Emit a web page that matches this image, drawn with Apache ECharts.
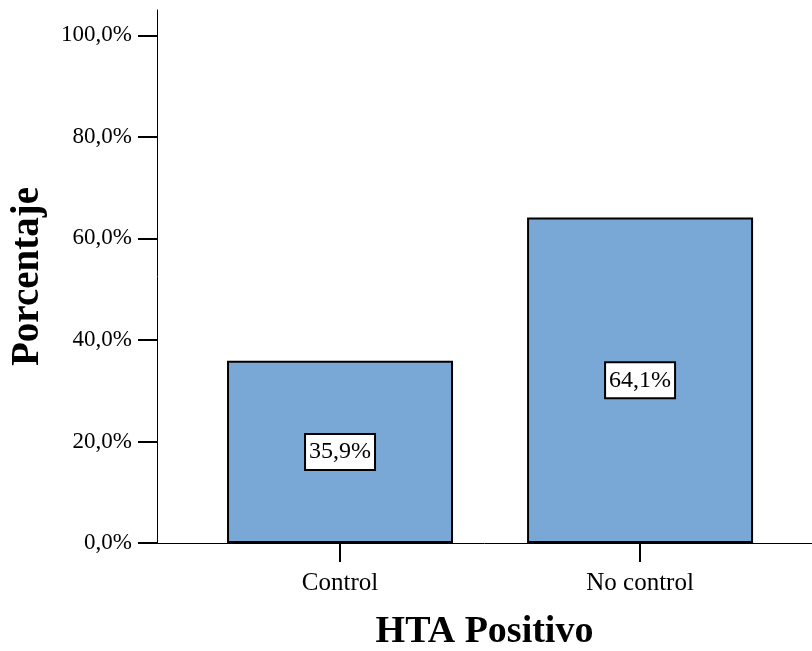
<!DOCTYPE html>
<html>
<head>
<meta charset="utf-8">
<script src="https://cdn.jsdelivr.net/npm/echarts@6/dist/echarts.min.js"></script>
<style>
html, body { margin: 0; padding: 0; background: #fff; }
#chart { width: 812px; height: 651px; }
</style>
</head>
<body>
<div id="chart"></div>
<script>
// datos del gráfico
var categorias = ['Control', 'No control'];
var porcentajes = [35.9, 64.1];
var ticksY = [0, 20, 40, 60, 80, 100];

var chart = echarts.init(document.getElementById('chart'));

function coma(v) {
    return v.toFixed(1).replace('.', ',') + '%';
}

var barras = [];
var posX = [];
for (var i = 0; i < categorias.length; i++) {
    barras.push([i + 1, porcentajes[i]]);
    posX.push(i + 1);
}

var fuente = 'Liberation Serif';

var option = {
    animation: false,
    grid: {
        left: 157,
        right: 0,
        top: 10,
        bottom: 108,
        outerBoundsMode: 'none',
        containLabel: false
    },
    xAxis: {
        type: 'value',
        min: 0.39,
        max: 2.573,
        name: 'HTA Positivo',
        nameLocation: 'middle',
        nameGap: 70,
        nameTextStyle: {
            fontFamily: fuente,
            fontWeight: 'bold',
            fontSize: 38,
            color: '#000'
        },
        splitLine: { show: false },
        axisLine: { show: true, lineStyle: { color: '#000', width: 1 } },
        axisTick: {
            show: true,
            length: 19,
            customValues: posX,
            lineStyle: { color: '#000', width: 2 }
        },
        axisLabel: {
            customValues: posX,
            margin: 28,
            fontFamily: fuente,
            fontSize: 25,
            color: '#000',
            formatter: function (v) {
                return categorias[Math.round(v) - 1] || '';
            }
        }
    },
    yAxis: {
        type: 'value',
        min: 0,
        max: 105,
        name: 'Porcentaje',
        nameLocation: 'middle',
        nameGap: 110,
        nameRotate: 90,
        nameTextStyle: {
            fontFamily: fuente,
            fontWeight: 'bold',
            fontSize: 39,
            color: '#000'
        },
        splitLine: { show: false },
        axisLine: { show: true, lineStyle: { color: '#000', width: 1 } },
        axisTick: {
            show: true,
            length: 19,
            customValues: ticksY,
            lineStyle: { color: '#000', width: 2 }
        },
        axisLabel: {
            customValues: ticksY,
            margin: 25,
            fontFamily: fuente,
            fontSize: 23,
            color: '#000',
            formatter: function (v) { return coma(v); }
        }
    },
    series: [{
        type: 'bar',
        data: barras,
        barWidth: 226,
        itemStyle: {
            color: '#79a8d6',
            borderColor: '#000',
            borderWidth: 2
        },
        label: {
            show: true,
            position: 'inside',
            formatter: function (p) { return coma(p.value[1]); },
            fontFamily: fuente,
            fontSize: 24,
            color: '#000',
            backgroundColor: '#fff',
            borderColor: '#000',
            borderWidth: 2,
            padding: [5, 3, 5, 3]
        }
    }]
};

chart.setOption(option);
</script>
</body>
</html>
